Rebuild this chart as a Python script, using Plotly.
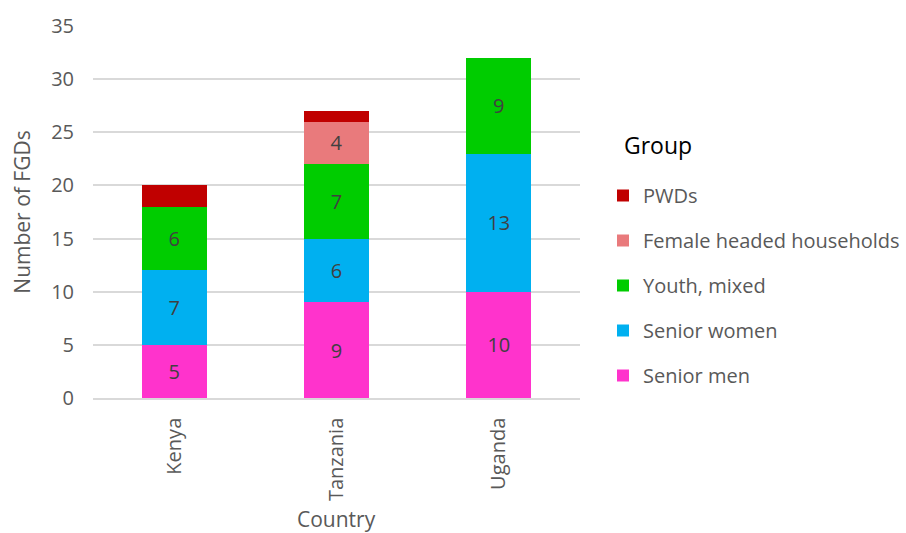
import plotly.graph_objects as go

countries = ["Kenya", "Tanzania", "Uganda"]
series_names = ["Senior men", "Senior women", "Youth, mixed", "Female headed households", "PWDs"]
senior_men = [5, 9, 10]
senior_women = [7, 6, 13]
youth_mixed = [6, 7, 9]
female_headed = [0, 4, 0]
pwds = [2, 1, 0]
values = [senior_men, senior_women, youth_mixed, female_headed, pwds]
colors = ["#FF33CC", "#00B0F0", "#00CC00", "#E97A7C", "#C00000"]
show_labels = [True, True, True, True, False]

font_family = "Open Sans, Segoe UI, sans-serif"

fig = go.Figure()
n = len(series_names)
for i, (name, vals, col, lab) in enumerate(zip(series_names, values, colors, show_labels)):
    fig.add_trace(go.Bar(
        x=countries, y=vals, name=name, marker=dict(color=col, line=dict(width=0)),
        text=[str(v) if (lab and v > 0) else "" for v in vals],
        textposition="inside", insidetextanchor="middle",
        textfont=dict(color="#404040", size=20, family=font_family),
        legendgroup=name, legendrank=n - i,
        hoverinfo="skip",
    ))

fig.update_layout(
    barmode="stack",
    bargap=0.6,
    width=906, height=533,
    margin=dict(l=93, r=326, t=26, b=135, autoexpand=False),
    paper_bgcolor="white", plot_bgcolor="white",
    font=dict(family=font_family, color="#595959", size=20),
    uniformtext=dict(mode=False),
    legend=dict(
        traceorder="grouped",
        tracegroupgap=16,
        x=603/906, xref="container", xanchor="left",
        y=(533 - 176) / 533, yref="container", yanchor="top",
        font=dict(size=20, color="#595959", family=font_family),
        itemwidth=30,
    ),
    showlegend=True,
    annotations=[
        dict(
            text="Group", xref="paper", yref="paper",
            x=(622 - 93) / 487, y=(398 - 145) / 372, xanchor="left", yanchor="middle",
            showarrow=False, font=dict(size=23, color="black", family=font_family),
        ),
        dict(
            text="Country", xref="paper", yref="paper",
            x=0.5, y=(398 - 519) / 372, xanchor="center", yanchor="middle",
            showarrow=False, font=dict(size=21, color="#595959", family=font_family),
        ),
    ],
)
fig.update_yaxes(
    range=[0, 35], dtick=5, showgrid=True, gridcolor="#D9D9D9", gridwidth=1.5,
    zeroline=False, ticks="outside", ticklen=14, tickcolor="rgba(0,0,0,0)",
    tickfont=dict(size=20, color="#595959"), automargin=False,
    title=dict(text="Number of FGDs", font=dict(size=21, color="#595959"), standoff=14),
)
fig.update_xaxes(
    showline=True, linecolor="#D9D9D9", linewidth=1.5,
    tickangle=-90, ticks="outside", ticklen=10, tickcolor="rgba(0,0,0,0)",
    tickfont=dict(size=20, color="#595959"), automargin=False,
)

fig.write_html("out.html")
